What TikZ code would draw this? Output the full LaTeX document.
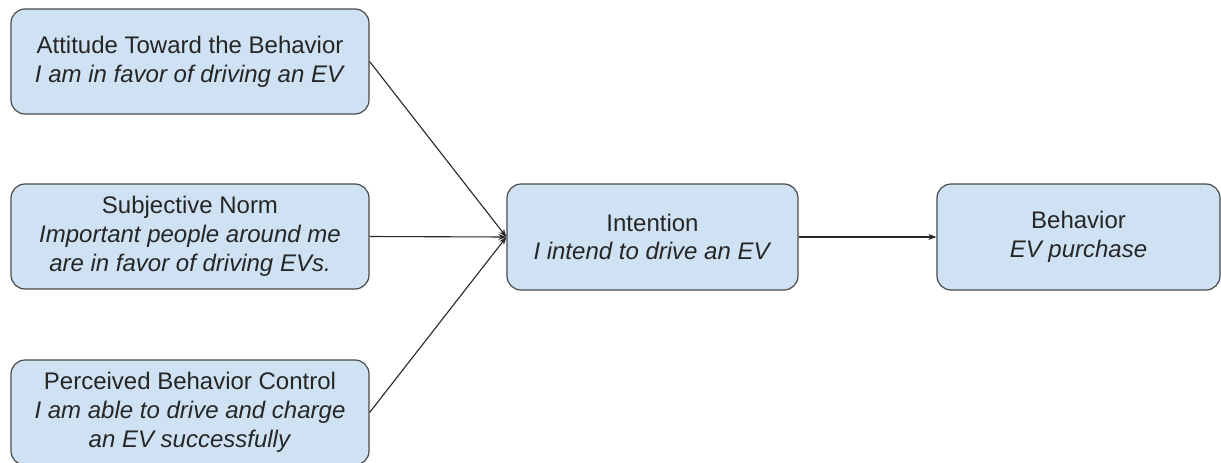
\documentclass[tikz,border=0pt]{standalone}
\usepackage{fontspec}
\setmainfont{Liberation Sans}
\usetikzlibrary{arrows.meta}
\definecolor{boxfill}{HTML}{CFE2F3}
\definecolor{boxline}{HTML}{4A4A4A}
\definecolor{txt}{HTML}{262626}
\begin{document}
\begin{tikzpicture}[x=1pt,y=-1pt,
  box/.style={draw=boxline,line width=1.2pt,fill=boxfill,rounded corners=14pt,
    align=center,text=txt,font=\fontsize{24}{28.8}\selectfont,inner sep=0pt},
  conn/.style={draw=black!85,line width=1.1pt,-{Stealth[length=8pt,width=6pt]}}]
\useasboundingbox (0,0) rectangle (1221,463);
\node[box,minimum width=358pt,minimum height=105pt] (att) at (190,61.5)
  {Attitude Toward the Behavior\\\textit{I am in favor of driving an EV}};
\node[box,minimum width=358pt,minimum height=105pt] (norm) at (190,236.5)
  {Subjective Norm\\\textit{Important people around me}\\\textit{are in favor of driving EVs.}};
\node[box,minimum width=358pt,minimum height=105pt] (pbc) at (190,412.5)
  {Perceived Behavior Control\\\textit{I am able to drive and charge}\\\textit{an EV successfully}};
\node[box,minimum width=291pt,minimum height=106pt] (int) at (652.5,237)
  {Intention\\\textit{I intend to drive an EV}};
\node[box,minimum width=283pt,minimum height=106pt] (beh) at (1078.5,237)
  {Behavior\\\textit{EV purchase}};
\draw[conn] (att.east) -- (int.west);
\draw[conn] (norm.east) -- (int.west);
\draw[conn] (pbc.east) -- (int.west);
\draw[conn] (int.east) -- (beh.west);
\end{tikzpicture}
\end{document}
